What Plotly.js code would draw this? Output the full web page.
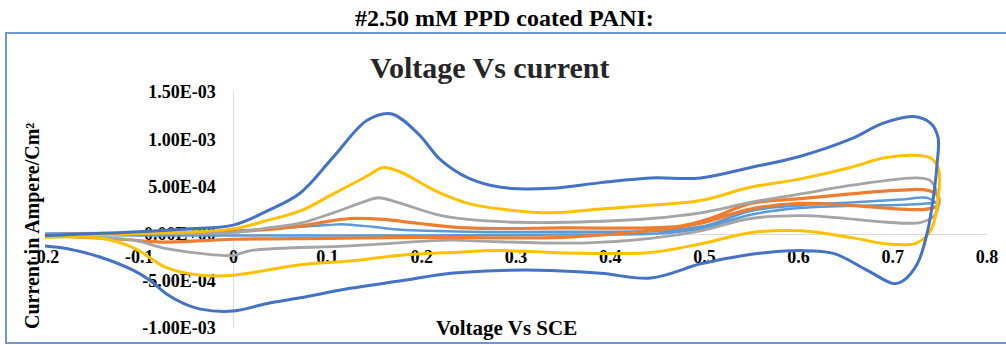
<!DOCTYPE html>
<html>
<head>
<meta charset="utf-8">
<script src="https://cdn.plot.ly/plotly-3.0.1.min.js"></script>
<style>html,body{margin:0;padding:0;background:#fff;}#chart{width:1006px;height:345px;}</style>
</head>
<body>
<div id="chart"></div>
<script>
// Voltage (V vs SCE) and current (units of 1e-4 A/cm^2) for each cyclic voltammogram
const blueV = [-0.2,-0.1,-0.05,0,0.036,0.071,0.106,0.142,0.167,0.196,0.22,0.249,0.284,0.337,0.39,0.443,0.496,0.549,0.602,0.655,0.69,0.722,0.74,0.748,0.747,0.743,0.737,0.726,0.711,0.701,0.673,0.637,0.602,0.567,0.531,0.496,0.443,0.39,0.337,0.284,0.231,0.178,0.124,0.071,0.036,0,-0.035,-0.053,-0.071,-0.088,-0.106,-0.141,-0.176,-0.2];
const blueI = [-0.2,0.2,0.5,0.9,2.4,4.3,8.1,12.0,12.7,10.6,7.8,5.9,4.9,4.8,5.4,5.9,5.9,7.0,8.2,10.0,11.7,12.4,11.7,10.2,7.4,3.8,0.3,-3.2,-5.0,-5.3,-3.9,-2.1,-1.8,-2.0,-2.5,-3.2,-4.7,-4.2,-3.9,-3.9,-4.2,-5.0,-5.8,-6.8,-7.4,-8.2,-8.0,-7.4,-6.4,-5.0,-3.9,-2.5,-1.6,-1.3];

const yellowV = [-0.2,-0.1,0,0.036,0.071,0.106,0.142,0.159,0.178,0.213,0.249,0.284,0.337,0.39,0.443,0.496,0.549,0.602,0.655,0.69,0.722,0.74,0.748,0.749,0.74,0.725,0.695,0.655,0.602,0.549,0.496,0.443,0.39,0.337,0.284,0.231,0.178,0.124,0.071,0,-0.035,-0.071,-0.106,-0.141,-0.2];
const yellowI = [-0.3,0.0,0.5,1.4,2.4,4.2,6.1,7.0,6.5,4.6,3.2,2.6,2.2,2.6,3.0,3.5,4.9,5.8,7.0,8.0,8.3,8.0,7.0,4.6,0.3,-1.0,-1.1,-0.4,0.3,0.1,-1.1,-2.0,-2.1,-2.0,-1.8,-2.0,-2.3,-2.9,-3.3,-4.4,-4.4,-3.6,-1.5,-0.5,-0.4];

const grayV = [-0.2,-0.1,0,0.036,0.071,0.106,0.142,0.154,0.178,0.213,0.249,0.301,0.355,0.443,0.496,0.549,0.602,0.655,0.708,0.726,0.74,0.748,0.745,0.73,0.694,0.64,0.602,0.549,0.496,0.443,0.369,0.262,0.231,0.124,0.018,0,-0.035,-0.071,-0.106,-0.141,-0.2];
const grayI = [-0.2,0.0,0.1,0.6,1.1,2.2,3.5,3.8,3.2,2.1,1.5,1.2,1.2,1.6,2.2,3.3,4.2,5.1,5.8,5.9,5.6,3.7,2.0,1.2,1.2,1.7,1.9,1.6,0.3,-0.5,-1.0,-0.8,-0.7,-1.3,-1.8,-2.3,-2.1,-1.6,-0.7,-0.4,-0.3];

const orangeV = [-0.2,-0.1,0,0.071,0.089,0.124,0.159,0.195,0.248,0.35,0.475,0.509,0.549,0.602,0.655,0.708,0.736,0.748,0.748,0.736,0.708,0.655,0.602,0.549,0.496,0.443,0.35,0.2,0.1,0,-0.071,-0.12,-0.2];
const orangeI = [-0.1,0.0,0.2,0.8,1.1,1.6,1.5,1.1,0.6,0.6,0.8,1.7,3.2,3.7,4.2,4.6,4.6,4.0,3.0,2.6,2.6,3.0,3.2,2.6,1.1,0.3,-0.4,-0.4,-0.5,-0.6,-0.9,-0.6,-0.2];

const lightBlueV = [-0.2,-0.1,0,0.05,0.1,0.115,0.15,0.178,0.25,0.35,0.45,0.5,0.549,0.602,0.655,0.708,0.736,0.745,0.736,0.69,0.64,0.6,0.549,0.5,0.45,0.35,0.2,0.1,0,-0.1,-0.2];
const lightBlueI = [0.0,0.1,0.3,0.6,0.9,1.0,0.7,0.4,0.2,0.2,0.3,0.8,2.4,3.0,3.3,3.6,3.8,3.3,3.2,3.0,2.9,2.7,2.0,0.6,0.0,-0.1,-0.2,-0.2,-0.2,-0.2,-0.1];

const xTickVals = [-0.2,-0.1,0,0.1,0.2,0.3,0.4,0.5,0.6,0.7,0.8];
const xTickText = ['-0.2','-0.1','0','0.1','0.2','0.3','0.4','0.5','0.6','0.7','0.8'];
const yTickVals = [-1.0e-3,-5.0e-4,0,5.0e-4,1.0e-3,1.5e-3];
const yTickText = ['-1.00E-03','-5.00E-04','0.00E+00','5.00E-04','1.00E-03','1.50E-03'];

const heading = '#2.50 mM PPD coated PANI:';
const chartTitle = 'Voltage Vs current';
const xTitle = 'Voltage Vs SCE';
const yTitle = 'Current in Ampere/Cm²';

const scale = v => v.map(a => a * 1e-4);
const series = [
  {v: lightBlueV, i: lightBlueI, color: '#5B9BD5', w: 2.5},
  {v: orangeV, i: orangeI, color: '#ED7D31', w: 3.2},
  {v: grayV, i: grayI, color: '#A5A5A5', w: 2.8},
  {v: yellowV, i: yellowI, color: '#FFC000', w: 3},
  {v: blueV, i: blueI, color: '#4472C4', w: 3}
];
const traces = series.map(s => ({
  x: s.v, y: scale(s.i), type: 'scatter', mode: 'lines',
  line: {color: s.color, width: s.w, shape: 'spline', smoothing: 1},
  hoverinfo: 'skip', showlegend: false
}));

const serif = '"Liberation Serif", "DejaVu Serif", serif';
const layout = {
  width: 1006, height: 345,
  margin: {l: 45, r: 19, t: 92, b: 17, pad: 0},
  paper_bgcolor: '#ffffff', plot_bgcolor: 'rgba(0,0,0,0)',
  showlegend: false,
  xaxis: {
    range: [-0.2, 0.8], tickvals: xTickVals, ticktext: xTickText,
    anchor: 'free', position: 0.4, showline: true, linecolor: '#D9D9D9', linewidth: 1,
    showgrid: false, zeroline: false, ticks: '', ticklabelstandoff: 7,
    tickfont: {family: serif, size: 18, color: '#000000', weight: 'bold'},
    automargin: false, fixedrange: true, layer: 'below traces'
  },
  yaxis: {
    range: [-1.0e-3, 1.5e-3], tickvals: yTickVals, ticktext: yTickText,
    anchor: 'free', position: 0.2, showline: true, linecolor: '#D9D9D9', linewidth: 1,
    showgrid: false, zeroline: false, ticks: '', ticklabelstandoff: 14,
    tickfont: {family: serif, size: 18, color: '#000000', weight: 'bold'},
    automargin: false, fixedrange: true, layer: 'below traces'
  },
  annotations: [
    {text: '<b>' + heading + '</b>', xref: 'paper', yref: 'paper', x: 0.488, y: 1.3136,
     xanchor: 'center', yanchor: 'middle', showarrow: false,
     font: {family: serif, size: 24, color: '#000000'}},
    {text: '<b>' + chartTitle + '</b>', xref: 'paper', yref: 'paper', x: 0.472, y: 1.1017,
     xanchor: 'center', yanchor: 'middle', showarrow: false,
     font: {family: serif, size: 30, color: '#262626'}},
    {text: '<b>' + xTitle + '</b>', xref: 'paper', yref: 'paper', x: 0.4904, y: 0.0,
     xanchor: 'center', yanchor: 'middle', showarrow: false,
     font: {family: serif, size: 21, color: '#000000'}},
    {text: '<b>' + yTitle + '</b>', xref: 'paper', yref: 'paper', x: -0.0138, y: 0.432,
     xanchor: 'center', yanchor: 'middle', showarrow: false, textangle: -90,
     font: {family: serif, size: 20, color: '#000000'}}
  ],
  shapes: [
    {type: 'rect', xref: 'paper', yref: 'paper', x0: -0.0414, x1: 1.022, y0: -0.0636, y1: 1.25,
     line: {color: '#6F97D6', width: 2}, fillcolor: 'rgba(0,0,0,0)', layer: 'below'}
  ]
};

Plotly.newPlot('chart', traces, layout, {displayModeBar: false, staticPlot: true});
</script>
</body>
</html>
